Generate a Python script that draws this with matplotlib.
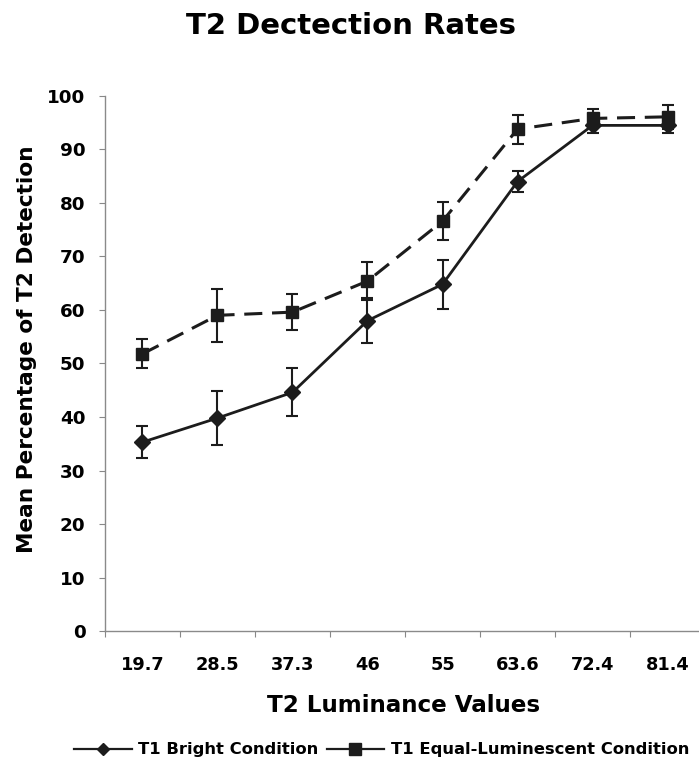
import matplotlib
matplotlib.use("Agg")
import matplotlib.pyplot as plt
from matplotlib.lines import Line2D
import numpy as np

# Data
luminance = ["19.7", "28.5", "37.3", "46", "55", "63.6", "72.4", "81.4"]
bright_mean = [35.3, 39.8, 44.6, 58.0, 64.8, 84.0, 94.5, 94.5]
bright_err = [3.0, 5.0, 4.5, 4.2, 4.6, 2.0, 1.5, 1.5]
equal_mean = [51.8, 59.0, 59.6, 65.4, 76.6, 93.8, 95.8, 96.1]
equal_err = [2.7, 5.0, 3.4, 3.5, 3.6, 2.7, 1.8, 2.3]
y_ticks = [0, 10, 20, 30, 40, 50, 60, 70, 80, 90, 100]
series_names = ['T1 Bright Condition', 'T1 Equal-Luminescent Condition']

plt.rcParams['font.family'] = ['DejaVu Sans']
plt.rcParams['font.weight'] = 'bold'
plt.rcParams['lines.scale_dashes'] = False

fig = plt.figure(figsize=(6.99, 7.61), dpi=100)
ax = fig.add_axes([0.1502, 0.1708, 0.8584, 0.7031])

x = np.arange(len(luminance))
ink = '#1c1c1c'
dash = (0, (13, 7))

ax.errorbar(x, bright_mean, yerr=bright_err, color=ink, lw=2.0,
            marker='D', markersize=8, capsize=4.5, elinewidth=1.5,
            capthick=1.5, zorder=3)
ax.errorbar(x, equal_mean, yerr=equal_err, color=ink, lw=2.2,
            linestyle=dash, marker='s', markersize=9, capsize=4.5,
            elinewidth=1.5, capthick=1.5, zorder=3)

ax.set_xlim(-0.5, len(luminance) - 0.5)
ax.set_ylim(0, 100)
ax.set_yticks(y_ticks)
ax.set_xticks(x)
ax.set_xticklabels(luminance)
ax.set_xticks(np.arange(-0.5, len(luminance)), minor=True)
ax.tick_params(axis='x', which='major', length=0, pad=18, labelsize=12.8)
ax.tick_params(axis='x', which='minor', length=4, color='#888888', width=0.8)
ax.tick_params(axis='y', length=4, color='#888888', width=0.8, pad=10,
               labelsize=13.2)

for side in ['top', 'right']:
    ax.spines[side].set_visible(False)
for side in ['left', 'bottom']:
    ax.spines[side].set_color('#8a8a8a')
    ax.spines[side].set_linewidth(1.0)

ax.set_xlabel('T2 Luminance Values', fontsize=16.6, fontweight='bold')
ax.xaxis.set_label_coords(0.498, -0.117)
ax.set_ylabel('Mean Percentage of T2 Detection', fontsize=15.6,
              fontweight='bold')
ax.yaxis.set_label_coords(-0.113, 0.527)

fig.suptitle('T2 Dectection Rates', fontsize=21, fontweight='bold',
             x=0.502, y=0.984)

handles = [
    Line2D([], [], color=ink, lw=1.6, marker='D', markersize=6.5),
    Line2D([], [], color=ink, lw=1.6, marker='s', markersize=8),
]
fig.legend(handles, series_names, loc='center', bbox_to_anchor=(0.546, 0.0145),
           ncol=2, frameon=False, fontsize=11.8, handlelength=3.5,
           columnspacing=0.5, handletextpad=0.4)

fig.savefig('out.png', dpi=100)
